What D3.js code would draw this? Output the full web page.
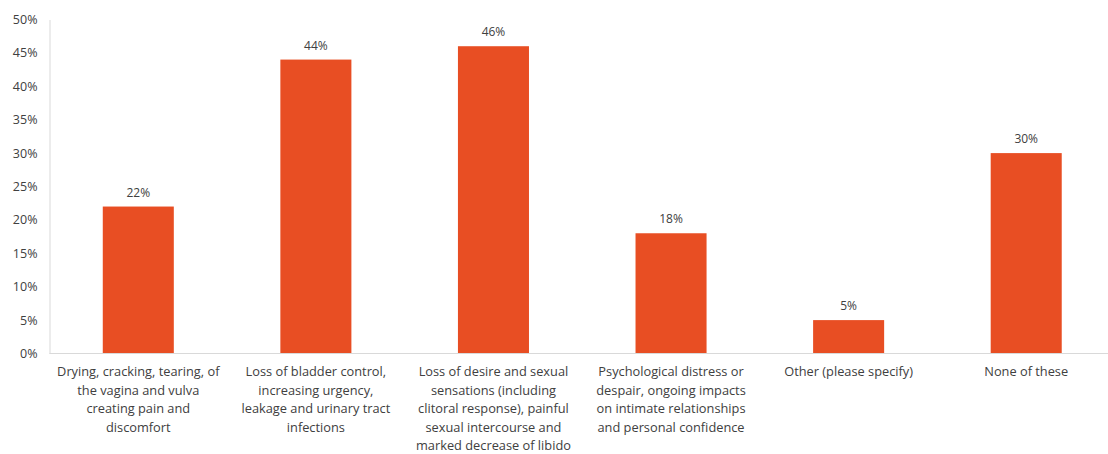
<!DOCTYPE html>
<html><head><meta charset="utf-8">
<script src="https://cdn.jsdelivr.net/npm/d3@7"></script>
<style>
body{margin:0;background:#fff;}
text{font-family:"Open Sans","Lato",sans-serif;fill:#404040;}
</style></head>
<body><svg id="c" width="1108" height="454"></svg>
<script>
const categories = [
  ["Drying, cracking, tearing, of","the vagina and vulva","creating pain and","discomfort"],
  ["Loss of bladder control,","increasing urgency,","leakage and urinary tract","infections"],
  ["Loss of desire and sexual","sensations (including","clitoral response), painful","sexual intercourse and","marked decrease of libido"],
  ["Psychological distress or","despair, ongoing impacts","on intimate relationships","and personal confidence"],
  ["Other (please specify)"],
  ["None of these"]
];
const values = [22, 44, 46, 18, 5, 30];
const yTicks = [0, 5, 10, 15, 20, 25, 30, 35, 40, 45, 50];

const svg = d3.select("#c");
const mLeft = 49.5, mRight = 1115, mTop = 19.5, mBottom = 353.5;
const x = d3.scaleBand().domain(d3.range(values.length)).range([mLeft, mRight]).paddingInner(0.6).paddingOuter(0.3);
const y = d3.scaleLinear().domain([0, 50]).range([mBottom, mTop]);

// y axis
const ya = svg.append("g").attr("transform", `translate(${mLeft},0)`)
  .call(d3.axisLeft(y).tickValues(yTicks).tickFormat(d => d + "%").tickSize(0).tickPadding(12));
ya.select(".domain").attr("stroke", "#d9d9d9");
ya.selectAll("text").style("font-size", "12.5px").style("fill", "#404040").attr("font-family", null);

// bars
svg.append("g").selectAll("rect").data(values).join("rect")
  .attr("x", (d, i) => x(i)).attr("width", x.bandwidth())
  .attr("y", d => y(d)).attr("height", d => y(0) - y(d))
  .attr("fill", "#E84E23");

// baseline
svg.append("line").attr("x1", mLeft).attr("x2", 1108).attr("y1", mBottom).attr("y2", mBottom)
  .attr("stroke", "#d9d9d9").attr("stroke-width", 1);

// value labels
svg.append("g").selectAll("text").data(values).join("text")
  .attr("x", (d, i) => x(i) + x.bandwidth() / 2).attr("y", d => y(d) - 10)
  .attr("text-anchor", "middle").style("font-size", "12px").text(d => d + "%");

// category labels
const cg = svg.append("g").selectAll("text").data(categories).join("text")
  .attr("x", (d, i) => x(i) + x.bandwidth() / 2).attr("y", 376)
  .attr("text-anchor", "middle").style("font-size", "12.8px");
cg.selectAll("tspan").data((d, i) => d.map(s => [s, i])).join("tspan")
  .attr("x", d => x(d[1]) + x.bandwidth() / 2)
  .attr("dy", (d, j) => j === 0 ? 0 : 18.6)
  .text(d => d[0]);
</script></body></html>
